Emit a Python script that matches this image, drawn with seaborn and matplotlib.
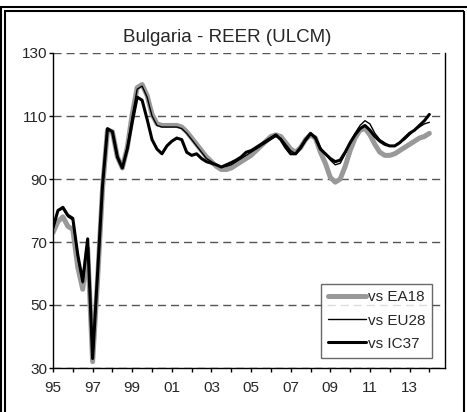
import numpy as np
import pandas as pd
import matplotlib
matplotlib.use('Agg')
import matplotlib.pyplot as plt
from matplotlib.lines import Line2D
import seaborn as sns

# quarterly data, 1995Q1 - 2014Q1
years = 1995 + np.arange(77) / 4.0

ea18 = [73, 76.5, 78, 75, 74, 62, 55, 68, 32, 58, 87, 105.5, 105, 97, 93.5, 100,
        110.5, 119, 120, 116.5, 110.5, 107.5, 107, 107, 107, 107, 106.5, 105, 103, 101,
        99, 97, 95.5, 94, 93, 93, 93.5, 94.5, 95.5, 96.5, 97.5, 99, 100.5, 102, 103.5,
        104, 103.5, 101.5, 99.5, 98.5, 100, 102.5, 104, 103, 98.5, 95, 90.5, 89, 90, 94,
        99, 103, 105.5, 106, 104, 101, 98.5, 97.5, 97.5, 98, 99, 100, 101, 102, 103,
        103.5, 104.5]

eu28 = [74.5, 80, 80.5, 78, 77, 65, 57, 70.5, 33, 60, 88, 106, 105, 97, 93.5, 100,
        110, 118.5, 119.5, 116, 110, 107, 106.5, 106.5, 106.5, 106.5, 106, 104.5, 102.5, 100.5,
        98.5, 96.5, 95.5, 94.5, 93.8, 94, 94.5, 95.5, 96.5, 97.5, 98.5, 99.5, 100.5, 101.5, 102.5,
        103.5, 103, 101, 99, 98, 99.5, 102, 104, 103.5, 100, 98, 96, 94.5, 95, 98,
        101.5, 104.5, 107, 108.5, 107.5, 104.5, 102.5, 101.5, 100.5, 100.5, 101.5, 102.5, 104, 105.5, 106.5,
        107.5, 108]

ic37 = [74.5, 80, 81, 78.5, 77.5, 66, 57.5, 71, 33, 60, 88, 106, 105, 97, 93.5, 99.5,
        108, 116, 115, 109, 102.5, 99.5, 98, 100.5, 102, 103, 102.5, 98.5, 97.5, 98,
        96.5, 95.5, 95, 94.5, 93.8, 94.5, 95.2, 96, 97, 98.5, 99, 100, 101, 102, 103,
        104, 102.5, 100, 98, 98, 100, 102.5, 104.5, 103, 99.5, 98, 96.5, 95.5, 96, 98.5,
        101.5, 104, 106, 107, 105.5, 103.5, 102, 101, 100.5, 100.5, 101.5, 103, 104.5, 105.5, 107,
        108.5, 110.5]

series_names = ['vs EA18', 'vs EU28', 'vs IC37']
series_colors = ['#999999', 'black', 'black']
series_widths = [3.6, 1.0, 2.2]

yticks = [30, 50, 70, 90, 110, 130]
xtick_years = list(range(1995, 2015))
xtick_labels = [f'{y % 100:02d}' if (y - 1995) % 2 == 0 else '' for y in xtick_years]

df = pd.DataFrame({'year': years, 'vs EA18': ea18, 'vs EU28': eu28, 'vs IC37': ic37})

sns.set_style('white')
plt.rcParams['font.family'] = ['Liberation Sans', 'DejaVu Sans']

fig = plt.figure(figsize=(4.67, 4.12), dpi=100)
ax = fig.add_axes([53 / 467, 1 - 368 / 412, 392 / 467, 315 / 412])

for name, col, lw in zip(series_names, series_colors, series_widths):
    sns.lineplot(data=df, x='year', y=name, ax=ax, color=col, linewidth=lw,
                 label=name, solid_joinstyle='round')

ax.set_xlim(1995, 2014.79)
ax.set_ylim(30, 130)
ax.set_yticks(yticks)
ax.set_xticks(xtick_years)
ax.set_xticklabels(xtick_labels)
ax.set_xlabel('')
ax.set_ylabel('')

ax.yaxis.grid(True, linestyle=(0, (5.8, 3.6)), color='#555555', linewidth=1.0)
ax.xaxis.grid(False)
ax.set_axisbelow(True)

for side in ['left', 'bottom', 'right']:
    ax.spines[side].set_visible(True)
    ax.spines[side].set_color('black')
    ax.spines[side].set_linewidth(1.0)
ax.spines['top'].set_visible(False)

ax.tick_params(axis='x', which='major', direction='out', length=3, width=1,
               color='black', labelsize=11, pad=6, bottom=True)
ax.tick_params(axis='y', which='major', direction='out', length=3, width=1,
               color='black', labelsize=11, pad=1, left=True)

leg = ax.legend(loc='lower left', bbox_to_anchor=(0.683, 0.033), fontsize=11,
                frameon=True, fancybox=False, edgecolor='#444444',
                handlelength=2.5, handletextpad=0.15, labelspacing=0.6,
                borderpad=0.45, borderaxespad=0)
leg.get_frame().set_linewidth(1.0)

fig.text(227 / 467, 1 - 38 / 412, 'Bulgaria - REER (ULCM)', ha='center', va='center',
         fontsize=13.5)

# double frame around the chart
W, H = 467.0, 412.0
def fline(xs, ys, lw=1.5):
    fig.add_artist(Line2D([x / W for x in xs], [1 - y / H for y in ys],
                          transform=fig.transFigure, color='black', linewidth=lw,
                          solid_capstyle='butt'))

fline([0, 467], [7, 7])
fline([1, 1], [7, 412])
fline([4, 464], [11, 11])
fline([4.5, 4.5], [11, 412])
fline([464, 464], [11, 412])

fig.savefig('out.png', dpi=100)
